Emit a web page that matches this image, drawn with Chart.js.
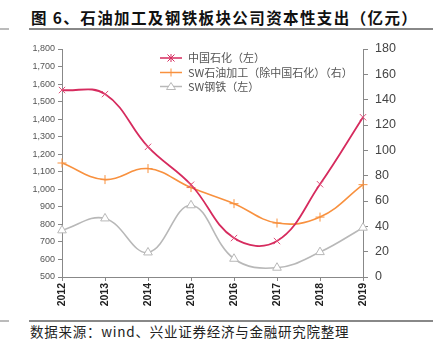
<!DOCTYPE html>
<html><head><meta charset="utf-8">
<script src="https://cdn.jsdelivr.net/npm/chart.js@4.4.1/dist/chart.umd.min.js"></script>
<style>
html,body{margin:0;padding:0;background:#fff;}
#wrap{position:relative;width:433px;height:354px;overflow:hidden;}
#title{position:absolute;left:31px;top:6px;font-family:"Noto Sans CJK SC";font-weight:bold;font-size:15.5px;color:#111;white-space:nowrap;letter-spacing:1.4px;}
#src{position:absolute;left:30px;top:321px;font-family:"Noto Sans CJK SC";font-size:13.5px;color:#222;white-space:nowrap;letter-spacing:0.75px;}
.ln{position:absolute;height:2px;}
#c{position:absolute;left:0;top:0;}
</style></head>
<body><div id="wrap">
<div id="title">图 6、石油加工及钢铁板块公司资本性支出（亿元）</div>
<div class="ln" style="left:0;top:28px;width:9px;background:#bbb;"></div>
<div class="ln" style="left:29px;top:28px;width:404px;background:#888;"></div>
<div class="ln" style="left:0;top:320px;width:9px;background:#bbb;"></div>
<div class="ln" style="left:29px;top:320px;width:404px;background:#888;"></div>
<div id="src">数据来源：wind、兴业证券经济与金融研究院整理</div>
<canvas id="c" width="433" height="354"></canvas>
</div>
<script>
const years = ['2012','2013','2014','2015','2016','2017','2018','2019'];
const sinopec = [1566, 1543, 1242, 1026, 722, 705, 1029, 1411];
const swRefining = [90.0, 76.9, 85.6, 70.6, 57.9, 42.6, 47.3, 72.9];
const swSteel = [766, 834, 640, 909, 604, 553, 642, 781];
const seriesNames = ['中国石化（左）', 'SW石油加工（除中国石化）（右）', 'SW钢铁（左）'];

const legendPlugin = {
  id: 'customLegend',
  afterDraw(chart) {
    const ctx = chart.ctx;
    const x0 = 160, ys = [58, 72.5, 86.5];
    chart.data.datasets.forEach((ds, i) => {
      const y = ys[i];
      ctx.save();
      ctx.strokeStyle = ds.borderColor;
      ctx.lineWidth = 1.5;
      ctx.beginPath(); ctx.moveTo(x0, y); ctx.lineTo(x0 + 22, y); ctx.stroke();
      const cx = x0 + 11;
      ctx.lineWidth = 1;
      if (i === 0) {
        ctx.beginPath();
        ctx.moveTo(cx-3.5,y-3.5); ctx.lineTo(cx+3.5,y+3.5);
        ctx.moveTo(cx-3.5,y+3.5); ctx.lineTo(cx+3.5,y-3.5);
        ctx.moveTo(cx,y-4); ctx.lineTo(cx,y+4);
        ctx.stroke();
      } else if (i === 1) {
        ctx.beginPath(); ctx.moveTo(cx,y-4); ctx.lineTo(cx,y+4); ctx.stroke();
      } else {
        ctx.fillStyle = '#fff';
        ctx.beginPath(); ctx.moveTo(cx,y-4); ctx.lineTo(cx+4.5,y+3); ctx.lineTo(cx-4.5,y+3); ctx.closePath();
        ctx.fill(); ctx.stroke();
      }
      ctx.fillStyle = '#555';
      ctx.font = '11px "Noto Sans CJK SC"';
      ctx.textBaseline = 'middle';
      ctx.textAlign = 'left';
      ctx.fillText(ds.label, x0 + 28, y);
      ctx.restore();
    });
  }
};

new Chart(document.getElementById('c'), {
  type: 'line',
  data: {
    labels: years,
    datasets: [
      { label: seriesNames[0], data: sinopec, yAxisID: 'yL', borderColor: '#D62B5E', backgroundColor: '#D62B5E',
        borderWidth: 1.8, tension: 0.4, pointStyle: 'crossRot', pointRadius: 4.5, pointBorderWidth: 1, pointBorderColor: '#E0507A' },
      { label: seriesNames[1], data: swRefining, yAxisID: 'yR', borderColor: '#F8913F', backgroundColor: '#F8913F',
        borderWidth: 1.6, tension: 0.4, pointStyle: 'cross', pointRadius: 4.5, pointBorderWidth: 1 },
      { label: seriesNames[2], data: swSteel, yAxisID: 'yL', borderColor: '#B8B8B8', backgroundColor: '#ffffff',
        borderWidth: 1.6, tension: 0.4, pointStyle: 'triangle', pointRadius: 5, pointBorderWidth: 1, pointBackgroundColor: '#fff' }
    ]
  },
  options: {
    responsive: false, animation: false,
    layout: { padding: { top: 49, bottom: 0, left: 0, right: 0 } },
    plugins: { legend: { display: false }, tooltip: { enabled: false } },
    scales: {
      x: {
        offset: false,
        grid: { display: true, drawOnChartArea: false, drawTicks: true, tickLength: 4, color: '#888' },
        border: { display: true, color: '#888', width: 1 },
        ticks: { minRotation: 90, maxRotation: 90, color: '#222', font: { family: '"Liberation Sans", Arial', size: 10.5, weight: 'bold' }, padding: 2 },
        afterFit(s) { s.height = 354 - 277; }
      },
      yL: {
        position: 'left', min: 500, max: 1800,
        grid: { display: true, drawOnChartArea: false, tickLength: 4, color: '#888' },
        border: { display: true, color: '#888', width: 1 },
        ticks: { stepSize: 100, color: '#555', font: { family: '"Liberation Sans", Arial', size: 9 }, padding: 3,
          callback: v => v.toLocaleString('en-US') },
        afterFit(s) { s.width = 62; }
      },
      yR: {
        position: 'right', min: 0, max: 180,
        grid: { display: true, drawOnChartArea: false, tickLength: 5, color: '#888' },
        border: { display: true, color: '#888', width: 1 },
        ticks: { stepSize: 20, color: '#444', font: { family: '"Liberation Sans", Arial', size: 12.5 }, padding: 7 },
        afterFit(s) { s.width = 433 - 363; }
      }
    }
  },
  plugins: [legendPlugin]
});
</script>
</body></html>
